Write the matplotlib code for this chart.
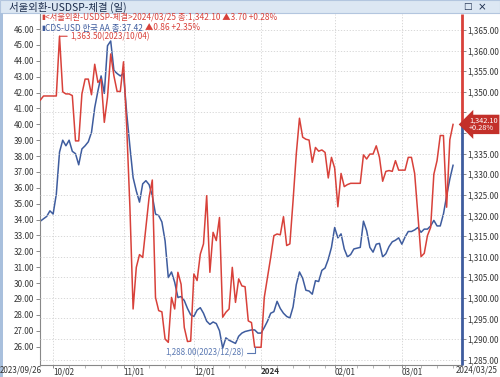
import matplotlib
matplotlib.use('Agg')
import matplotlib.pyplot as plt
import matplotlib.transforms as mtransforms
from matplotlib.patches import Rectangle
import numpy as np
import pandas as pd

plt.rcParams['font.family'] = ['Noto Sans CJK KR', 'DejaVu Sans']

# trading days (weekdays, holidays carried forward)
start_date = '2023-09-26'
end_date = '2024-03-25'

# 서울외환 USD/KRW close
usdkrw = [
    1348.0, 1349.0, 1349.0, 1349.0, 1349.0, 1349.0, 1363.5, 1350.0, 1349.5, 1349.5,
    1349.1, 1338.1, 1338.1, 1349.5, 1353.1, 1353.1, 1349.3, 1356.7, 1352.3, 1353.1,
    1342.6, 1348.7, 1359.2, 1353.9, 1350.1, 1350.1, 1357.3, 1341.5, 1322.0, 1297.3,
    1307.4, 1310.5, 1309.8, 1317.1, 1324.4, 1328.6, 1300.1, 1296.9, 1296.6, 1290.0,
    1289.2, 1300.1, 1297.3, 1306.2, 1303.3, 1292.8, 1289.4, 1289.5, 1305.8, 1304.2,
    1310.6, 1313.1, 1324.8, 1306.2, 1315.9, 1313.9, 1319.5, 1295.3, 1296.5, 1297.3,
    1307.4, 1298.9, 1304.6, 1302.9, 1302.7, 1294.4, 1294.0, 1288.0, 1288.0, 1288.0,
    1300.1, 1305.0, 1309.8, 1315.1, 1315.5, 1315.3, 1319.7, 1312.7, 1313.1, 1323.6,
    1334.9, 1343.6, 1339.0, 1338.5, 1338.3, 1332.9, 1336.5, 1335.6, 1335.9, 1335.3,
    1329.1, 1334.1, 1331.5, 1322.1, 1330.2, 1327.0, 1327.5, 1327.8, 1327.8, 1327.8,
    1327.8, 1334.7, 1333.7, 1334.9, 1334.9, 1336.9, 1334.1, 1328.3, 1330.7, 1330.9,
    1330.7, 1333.3, 1331.0, 1331.0, 1331.0, 1334.1, 1334.1, 1330.2, 1320.3, 1310.0,
    1310.8, 1315.1, 1317.1, 1330.0, 1333.3, 1339.4, 1339.4, 1322.0, 1338.4, 1342.1,
]

# CDS-USD 한국 AA
cds_kr = [
    33.9, 34.05, 34.2, 34.55, 34.35, 35.6, 38.25, 39.0, 38.65, 39.0,
    38.3, 38.15, 37.45, 38.45, 38.65, 38.9, 39.5, 41.05, 42.1, 43.05,
    41.95, 44.95, 45.25, 43.4, 43.2, 43.05, 43.2, 40.7, 38.6, 36.65,
    35.8, 35.1, 36.25, 36.45, 36.2, 35.5, 34.35, 34.25, 33.85, 32.65,
    30.35, 30.7, 30.05, 29.1, 29.15, 28.9, 28.4, 28.0, 27.9, 28.3,
    28.45, 28.1, 27.6, 27.4, 27.55, 27.45, 27.0, 25.9, 26.55, 26.4,
    26.3, 26.2, 26.65, 26.85, 26.95, 27.0, 27.05, 27.05, 26.85, 26.85,
    27.2, 27.6, 28.1, 28.2, 28.85, 28.4, 28.1, 27.9, 27.8, 28.5,
    29.9, 30.7, 30.3, 29.55, 29.5, 29.3, 30.15, 30.1, 30.8, 30.95,
    31.5, 32.25, 33.5, 32.85, 33.1, 32.15, 31.65, 31.8, 32.15, 32.2,
    32.25, 33.9, 33.3, 32.25, 31.95, 32.45, 32.5, 31.65, 31.85, 32.3,
    32.6, 32.7, 32.85, 32.45, 32.9, 33.25, 33.25, 33.35, 33.5, 33.2,
    33.4, 33.4, 33.6, 33.95, 33.6, 33.6, 34.35, 35.5, 36.56, 37.42,
]

tick_dates = ['2023-10-02', '2023-11-01', '2023-12-01', '2024-01-01', '2024-02-01', '2024-03-01']
tick_labels = ['10/02', '11/01', '12/01', '2024', '02/01', '03/01']

left_ticks = list(range(26, 47))
right_ticks = list(range(1285, 1366, 5))

RED = '#d8413a'
BLUE = '#3e5c9e'
GRID = '#d2d2d2'
TXT = '#333333'

dates = pd.bdate_range(start_date, end_date)[:len(usdkrw)]
x = np.arange(len(dates))
tick_idx = [int(dates.searchsorted(pd.Timestamp(d))) for d in tick_dates]
monday_idx = x[dates.dayofweek == 0]

last = usdkrw[-1]
prev = usdkrw[-2]
pct = (last - prev) / prev * 100

W, H = 500, 377
fig = plt.figure(figsize=(W / 100, H / 100), dpi=100)
fig.patch.set_facecolor('white')

# window frame
fig.patches.append(Rectangle((0, 1 - 13 / H), 1, 13 / H, transform=fig.transFigure,
                             fc='#dce7f3', ec='#b3c6df', lw=0.8, zorder=0))
fig.patches.append(Rectangle((0, 0), 3 / W, 1 - 13 / H, transform=fig.transFigure,
                             fc='#a9c0dd', ec='none', zorder=0))
fig.text(9 / W, 1 - 7 / H, '서울외환-USDSP-체결 (일)', fontsize=7.5, color='#1c2c4c',
         ha='left', va='center')
fig.text(463 / W, 1 - 7 / H, '□', fontsize=6.5, color='#1c2c4c', ha='left', va='center',
         family=['DejaVu Sans'])
fig.text(478 / W, 1 - 7 / H, '×', fontsize=7.5, color='#1c2c4c', ha='left', va='center',
         family=['DejaVu Sans'])

ax = fig.add_axes([40 / W, 12 / H, 422 / W, 351 / H])
ax2 = ax.twinx()

ax.plot(x, cds_kr, color=BLUE, lw=1.1)
ax2.plot(x, usdkrw, color=RED, lw=1.1)

ax.set_xlim(-0.1, 131.8)
ax.set_ylim(24.84, 46.95)
ax2.set_ylim(1283.7, 1368.9)

# left axis
ax.set_yticks(left_ticks)
ax.set_yticklabels([f'{v:.2f}' for v in left_ticks], fontsize=5.8, color=TXT)
ax.tick_params(axis='y', length=3, width=0.6, color='#777777', pad=1)

# right axis (the label under the price box is hidden, as in the source)
ax2.set_yticks(right_ticks)
ax2.set_yticklabels(['' if abs(v - last) < 3 else f'{v:,.2f}' for v in right_ticks],
                    fontsize=5.8, color=TXT)
ax2.tick_params(axis='y', length=3, width=0.6, color='#777777', pad=1)
ax2.yaxis.grid(True, color=GRID, ls=(0, (1.5, 2)), lw=0.6)

# x axis
ax.set_xticks(tick_idx)
ax.set_xticklabels(tick_labels, fontsize=5.8, color=TXT, ha='left')
for lab in ax.get_xticklabels():
    if lab.get_text() == '2024':
        lab.set_fontweight('bold')
ax.set_xticks(monday_idx, minor=True)
ax.tick_params(axis='x', which='major', length=2, width=0.6, color='#777777', pad=-0.5)
ax.tick_params(axis='x', which='minor', length=2, width=0.5, color='#999999')
ax.xaxis.grid(True, which='major', color=GRID, ls=(0, (1.5, 2)), lw=0.6)

fig.text(42 / W, 1 - 370.5 / H, f'{dates[0]:%Y/%m/%d}', fontsize=5.8, color=TXT,
         ha='right', va='center')
fig.text(498 / W, 1 - 370.5 / H, f'{dates[-1]:%Y/%m/%d}', fontsize=5.8, color=TXT,
         ha='right', va='center')

for a in (ax, ax2):
    a.spines['top'].set_visible(False)
    a.spines['right'].set_visible(False)
ax2.spines['left'].set_visible(False)
ax2.spines['bottom'].set_visible(False)
ax.spines['left'].set_color('#888888')
ax.spines['bottom'].set_color('#888888')
ax.spines['left'].set_linewidth(0.8)
ax.spines['bottom'].set_linewidth(0.8)

# right axis bar: red above the last price, blue below
lo, hi = ax2.get_ylim()
trans = mtransforms.blended_transform_factory(ax2.transAxes, ax2.transData)
ax2.plot([1, 1], [last, hi], transform=trans, color=RED, lw=2, clip_on=False,
         solid_capstyle='butt')
ax2.plot([1, 1], [lo, last], transform=trans, color=BLUE, lw=2, clip_on=False,
         solid_capstyle='butt')

ax2.annotate(f'{last:,.2f}\n+{pct:.2f}%', xy=(1, last), xycoords=trans,
             xytext=(5, 0), textcoords='offset points', ha='left', va='center',
             fontsize=5.3, color='white', linespacing=0.95, zorder=10,
             bbox=dict(boxstyle='larrow,pad=0.25', fc='#c3302a', ec='none'),
             annotation_clip=False)

# max / min labels
imax = int(np.argmax(usdkrw))
imin = int(np.argmin(usdkrw))
ax2.annotate(f'{usdkrw[imax]:,.2f}({dates[imax]:%Y/%m/%d})', xy=(imax, usdkrw[imax]),
             xytext=(7.5, 0), textcoords='offset points', ha='left', va='center',
             fontsize=5.8, color=RED,
             arrowprops=dict(arrowstyle='-', color=RED, lw=0.8, shrinkA=0, shrinkB=0))
ax2.annotate(f'{usdkrw[imin]:,.2f}({dates[imin]:%Y/%m/%d})', xy=(imin, usdkrw[imin]),
             xytext=(-7.5, -3.8), textcoords='offset points', ha='right', va='center',
             fontsize=5.8, color='#5a78b2',
             arrowprops=dict(arrowstyle='-', color='#5a78b2', lw=0.8, shrinkA=0, shrinkB=0,
                             connectionstyle='angle,angleA=0,angleB=90,rad=0'))

# legend lines
d_red = last - prev
fig.text(41 / W, 1 - 17 / H, '▮', fontsize=5, color=RED, ha='left', va='center',
         family=['DejaVu Sans'])
fig.text(45 / W, 1 - 17 / H,
         f'<서울외환-USDSP-체결>{dates[-1]:%Y/%m/%d} 종:{last:,.2f} ▲{d_red:.2f} +{pct:.2f}%',
         fontsize=6, color=RED, ha='left', va='center')

b_last, b_prev = cds_kr[-1], cds_kr[-2]
b_pct = (b_last - b_prev) / b_prev * 100
fig.text(41 / W, 1 - 28 / H, '▮', fontsize=5, color=BLUE, ha='left', va='center',
         family=['DejaVu Sans'])
t1 = fig.text(45 / W, 1 - 28 / H, f'CDS-USD 한국 AA 종:{b_last:.2f} ',
              fontsize=6, color=BLUE, ha='left', va='center')
ax.annotate(f'▲{b_last - b_prev:.2f} +{b_pct:.2f}%', xy=(1, 0.5), xycoords=t1,
            ha='left', va='center', fontsize=6, color=RED, annotation_clip=False)

fig.savefig('out.png', dpi=100)
